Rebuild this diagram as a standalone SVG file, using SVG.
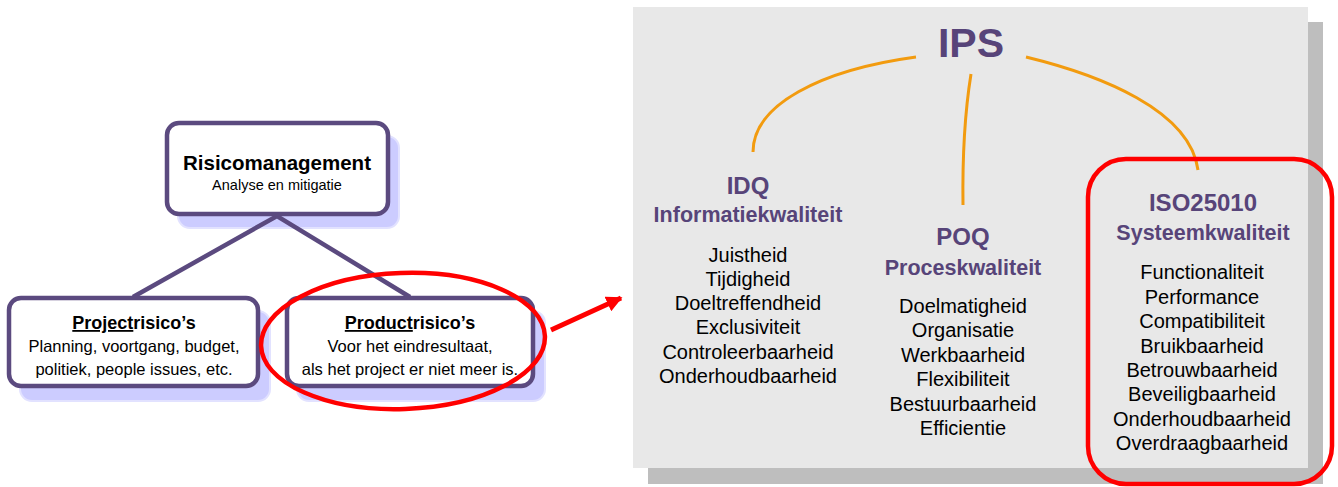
<svg xmlns="http://www.w3.org/2000/svg" width="1338" height="487" viewBox="0 0 1338 487">
<defs>
<style>
.box{fill:#fff;stroke:#5b4a7f;stroke-width:4.5}
.shadow{fill:#ccccff;stroke:#e2e2ff;stroke-width:2}
.conn{fill:none;stroke:#5b4a7f;stroke-width:4.5}
.orange{fill:none;stroke:#f29b0f;stroke-width:3}
.t{font-family:"Liberation Sans",Arial,sans-serif;text-anchor:middle;fill:#000}
.title{font-weight:bold}
.purple{fill:#574479;font-weight:bold}
.item{font-size:20px}
.red{fill:none;stroke:#ff0000;stroke-width:4.5}
</style>
<marker id="arr" viewBox="0 0 10 10" refX="9" refY="5" markerWidth="3.2" markerHeight="3.2" orient="auto" markerUnits="strokeWidth">
<path d="M0,0 L10,5 L0,10 z" fill="#ff0000"/>
</marker>
</defs>
<rect width="1338" height="487" fill="#fff"/>

<g id="shadows">
<rect class="shadow" x="178" y="136" width="221" height="92" rx="12"/>
<rect class="shadow" x="20" y="311" width="250" height="90" rx="12"/>
<rect class="shadow" x="297" y="311" width="248" height="90" rx="12"/>
</g>

<g id="connectors">
<path class="conn" d="M133,297 L277,216 L410,297"/>
</g>

<g id="risicomanagement">
<rect class="box" x="167" y="123" width="221" height="91" rx="12"/>
<text class="t title" x="277" y="170" font-size="20.5">Risicomanagement</text>
<text class="t" x="277" y="190" font-size="14.5">Analyse en mitigatie</text>
</g>

<g id="projectrisicos">
<rect class="box" x="9" y="298" width="249" height="88" rx="12"/>
<text class="t title" x="134" y="329" font-size="18"><tspan text-decoration="underline">Project</tspan>risico’s</text>
<text class="t" x="134" y="352" font-size="16.5">Planning, voortgang, budget,</text>
<text class="t" x="134" y="375" font-size="16.5">politiek, people issues, etc.</text>
</g>

<g id="productrisicos">
<rect class="box" x="287" y="298" width="246" height="88" rx="12"/>
<text class="t title" x="410" y="329" font-size="18"><tspan text-decoration="underline">Product</tspan>risico’s</text>
<text class="t" x="410" y="352" font-size="16.5">Voor het eindresultaat,</text>
<text class="t" x="410" y="375" font-size="16.5">als het project er niet meer is.</text>
</g>

<g id="highlight-ellipse">
<ellipse class="red" cx="403" cy="341" rx="142" ry="68" transform="rotate(-2 403 341)"/>
</g>

<g id="red-arrow">
<line x1="551" y1="330" x2="621" y2="298" stroke="#ff0000" stroke-width="5" marker-end="url(#arr)"/>
</g>

<g id="ips-panel">
<rect x="648" y="22" width="675" height="462" fill="#bebebe"/>
<rect x="633" y="7" width="675" height="461" fill="#e8e8e8"/>
</g>

<g id="ips-connectors">
<path class="orange" d="M916,57 C820,70 753,105 753,152"/>
<path class="orange" d="M971,74 Q962,130 963,205"/>
<path class="orange" d="M1026,57 C1100,75 1190,110 1198,170"/>
</g>

<g id="ips">
<text class="t purple" x="971" y="57" font-size="41">IPS</text>
</g>

<g id="idq">
<text class="t purple" x="748" y="194" font-size="24">IDQ</text>
<text class="t purple" x="748" y="222" font-size="21.5">Informatiekwaliteit</text>
<text class="t item" x="748" y="262">Juistheid</text>
<text class="t item" x="748" y="286">Tijdigheid</text>
<text class="t item" x="748" y="310">Doeltreffendheid</text>
<text class="t item" x="748" y="334">Exclusiviteit</text>
<text class="t item" x="748" y="359">Controleerbaarheid</text>
<text class="t item" x="748" y="383">Onderhoudbaarheid</text>
</g>

<g id="poq">
<text class="t purple" x="963" y="245" font-size="24">POQ</text>
<text class="t purple" x="963" y="275" font-size="21.5">Proceskwaliteit</text>
<text class="t item" x="963" y="313">Doelmatigheid</text>
<text class="t item" x="963" y="337">Organisatie</text>
<text class="t item" x="963" y="362">Werkbaarheid</text>
<text class="t item" x="963" y="386">Flexibiliteit</text>
<text class="t item" x="963" y="411">Bestuurbaarheid</text>
<text class="t item" x="963" y="435">Efficientie</text>
</g>

<g id="iso25010">
<rect class="red" x="1088" y="159" width="244" height="325" rx="38"/>
<text class="t purple" x="1203" y="211" font-size="24">ISO25010</text>
<text class="t purple" x="1203" y="240" font-size="21.5">Systeemkwaliteit</text>
<text class="t item" x="1202" y="279">Functionaliteit</text>
<text class="t item" x="1202" y="304">Performance</text>
<text class="t item" x="1202" y="328">Compatibiliteit</text>
<text class="t item" x="1202" y="353">Bruikbaarheid</text>
<text class="t item" x="1202" y="377">Betrouwbaarheid</text>
<text class="t item" x="1202" y="401">Beveiligbaarheid</text>
<text class="t item" x="1202" y="426">Onderhoudbaarheid</text>
<text class="t item" x="1202" y="450">Overdraagbaarheid</text>
</g>
</svg>
